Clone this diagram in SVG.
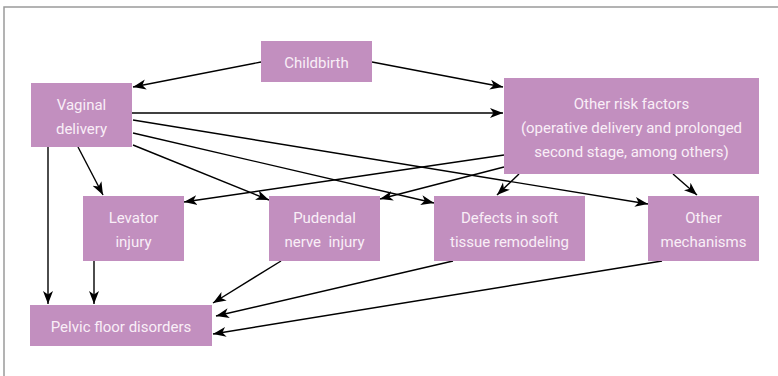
<svg xmlns="http://www.w3.org/2000/svg" width="778" height="376" viewBox="0 0 778 376">
<style>
.box{fill:#c28fbf;}
.lbl{font-family:"Roboto","Liberation Sans",sans-serif;font-size:15px;fill:#f9eef7;text-anchor:middle;}
.con{stroke:#000;stroke-width:1.4;fill:none;marker-end:url(#ah);}
.frame{stroke:#9a9a9a;stroke-width:1.5;fill:none;}
</style>
<defs>
<marker id="ah" markerUnits="userSpaceOnUse" markerWidth="14" markerHeight="12" refX="13" refY="5" orient="auto" viewBox="0 0 14 10">
<path d="M0,0 L13,5 L0,10 L3.5,5 z" fill="#000"/>
</marker>
</defs>
<rect width="778" height="376" fill="#fff"/>
<path class="frame" d="M4,376 L4,7 L778,7"/>

<g id="connectors">
<line class="con" x1="261" y1="62" x2="133" y2="87"/>
<line class="con" x1="372" y1="62" x2="503" y2="87"/>
<line class="con" x1="132" y1="113" x2="503" y2="113"/>
<line class="con" x1="133" y1="120" x2="648" y2="204"/>
<line class="con" x1="133" y1="133" x2="434" y2="203"/>
<line class="con" x1="133" y1="145" x2="269" y2="200"/>
<line class="con" x1="78" y1="147" x2="103" y2="195"/>
<line class="con" x1="504" y1="155" x2="184" y2="202"/>
<line class="con" x1="504" y1="167" x2="380" y2="199"/>
<line class="con" x1="519" y1="174" x2="497" y2="195"/>
<line class="con" x1="673" y1="174" x2="697" y2="195"/>
<line class="con" x1="48" y1="147" x2="48" y2="304"/>
<line class="con" x1="94" y1="261" x2="94" y2="304"/>
<line class="con" x1="281" y1="261" x2="213" y2="303"/>
<line class="con" x1="453" y1="261" x2="216" y2="316"/>
<line class="con" x1="662" y1="261" x2="213" y2="334"/>
</g>

<g id="childbirth">
<rect class="box" x="261" y="41" width="111" height="41"/>
<text class="lbl" x="316.5" y="68">Childbirth</text>
</g>
<g id="vaginal-delivery">
<rect class="box" x="31" y="83" width="101" height="64"/>
<text class="lbl" x="81.5" y="110">Vaginal</text>
<text class="lbl" x="81.5" y="134">delivery</text>
</g>
<g id="other-risk-factors">
<rect class="box" x="504" y="78" width="255" height="96"/>
<text class="lbl" x="631.5" y="109">Other risk factors</text>
<text class="lbl" x="631.5" y="133">(operative delivery and prolonged</text>
<text class="lbl" x="631.5" y="157">second stage, among others)</text>
</g>
<g id="levator-injury">
<rect class="box" x="83" y="196" width="101" height="65"/>
<text class="lbl" x="133.5" y="223">Levator</text>
<text class="lbl" x="133.5" y="247">injury</text>
</g>
<g id="pudendal-nerve-injury">
<rect class="box" x="269" y="196" width="111" height="65"/>
<text class="lbl" x="324.5" y="223">Pudendal</text>
<text class="lbl" x="324.5" y="247" xml:space="preserve">nerve  injury</text>
</g>
<g id="defects-soft-tissue">
<rect class="box" x="434" y="196" width="151" height="65"/>
<text class="lbl" x="509.5" y="223">Defects in soft</text>
<text class="lbl" x="509.5" y="247">tissue remodeling</text>
</g>
<g id="other-mechanisms">
<rect class="box" x="648" y="196" width="111" height="65"/>
<text class="lbl" x="703.5" y="223">Other</text>
<text class="lbl" x="703.5" y="247">mechanisms</text>
</g>
<g id="pelvic-floor-disorders">
<rect class="box" x="30" y="305" width="182" height="41"/>
<text class="lbl" x="121" y="332">Pelvic floor disorders</text>
</g>
</svg>
